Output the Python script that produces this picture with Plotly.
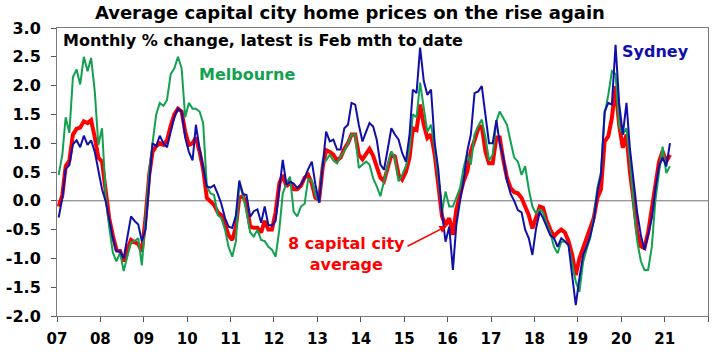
import pandas as pd
import plotly.graph_objects as go

# Monthly % change, Jan 2007 .. Feb 2021
sydney = [
    -0.29, 0.05, 0.55, 0.62, 0.98, 1.05, 0.93, 1.13, 0.97, 1.05, 0.85, 0.5,
    0.2, -0.01, -0.3, -0.65, -0.88, -0.88, -1.0, -0.65, -0.27, -0.35, -0.41, -0.7,
    -0.5, 0.3, 1.0, 0.95, 1.13, 1.0, 0.93, 1.2, 1.45, 1.6, 1.55, 1.1,
    0.85, 0.7, 1.32, 0.9, 0.55, 0.25, 0.23, 0.27, 0.12, -0.05, -0.3, -0.45,
    -0.47, -0.25, 0.35, 0.12, 0.1, -0.28, -0.18, -0.15, -0.38, -0.1, -0.42, -0.43,
    -0.35, 0.15, 0.71, 0.28, 0.33, 0.3, 0.22, 0.28, 0.4, 0.55, 0.68, 0.28,
    -0.03, 0.63, 1.2, 1.03, 1.06, 0.89, 0.89, 1.26, 1.32, 1.7, 1.67, 1.32,
    1.03, 1.2, 1.35, 1.29, 1.06, 0.63, 0.54, 0.89, 1.26, 1.15, 1.06, 0.83,
    0.68, 1.15, 1.93, 1.87, 2.66, 2.08, 1.84, 1.93, 1.0, 0.55, -0.2, -0.71,
    -0.45, -1.2, -0.42, 0.0, 0.34, 0.86, 1.15, 1.87, 1.9, 1.99, 1.5, 1.0,
    1.0, 1.4, 1.0, 0.75, 0.35, 0.12, 0.0, -0.16, -0.2, -0.5, -0.65, -0.94,
    -0.48, -0.19, -0.3, -0.45, -0.6, -0.65, -0.8, -0.65, -0.7, -0.77, -1.34, -1.81,
    -1.34, -0.94, -0.8, -0.62, -0.36, 0.16, 0.45, 1.55, 1.7, 1.67, 2.71, 1.7,
    1.15, 1.7, 0.9, 0.35, -0.2, -0.6, -0.85, -0.6, -0.3, 0.2, 0.6, 0.75,
    0.6, 1.0,
]

capital_avg = [
    -0.1, 0.1, 0.6, 0.7, 1.15, 1.25, 1.27, 1.38, 1.35, 1.4, 1.1, 0.75,
    0.68, 0.12, -0.3, -0.6, -0.85, -0.87, -1.05, -0.85, -0.68, -0.72, -0.75, -0.88,
    -0.3, 0.45, 0.85, 0.95, 1.0, 0.97, 1.05, 1.3, 1.5, 1.6, 1.55, 1.2,
    0.97, 1.0, 1.1, 0.85, 0.55, 0.05, 0.0, -0.07, -0.2, -0.25, -0.41, -0.6,
    -0.68, -0.45, 0.05, 0.08, -0.05, -0.45, -0.47, -0.47, -0.55, -0.35, -0.5, -0.5,
    -0.2, 0.3, 0.45, 0.25, 0.32, 0.2, 0.2, 0.26, 0.4, 0.45, 0.3, 0.05,
    0.02, 0.6, 0.88, 0.85, 0.8, 0.7, 0.75, 0.9, 1.0, 1.15, 1.15, 0.8,
    0.72, 0.8, 0.9, 0.78, 0.57, 0.4, 0.34, 0.57, 0.8, 0.77, 0.45, 0.37,
    0.5, 0.75, 1.26, 1.23, 1.67, 1.32, 1.09, 1.15, 0.8, 0.28, -0.27, -0.42,
    -0.3, -0.59, -0.15, 0.1, 0.34, 0.51, 0.86, 1.05, 1.25, 1.3, 0.85, 0.65,
    0.65, 1.1, 1.1, 0.7, 0.4, 0.22, 0.15, 0.13, 0.05, -0.1, -0.25, -0.48,
    -0.27, -0.1, -0.12, -0.35, -0.5, -0.62, -0.55, -0.5, -0.55, -0.7, -0.94, -1.29,
    -1.0, -0.82, -0.7, -0.5, -0.3, 0.05, 0.2, 1.03, 1.12, 1.44, 1.99, 1.32,
    0.92, 1.15, 0.5, 0.0, -0.55, -0.79, -0.82, -0.55, -0.15, 0.34, 0.68, 0.86,
    0.68, 0.8,
]

melbourne = [
    0.45, 0.8, 1.45, 1.18, 2.15, 2.28, 2.02, 2.5, 2.25, 2.48, 1.9, 0.97,
    1.26, 0.1, -0.45, -0.9, -1.05, -0.9, -1.22, -0.95, -0.72, -0.7, -0.65, -1.12,
    -0.3, 0.5, 1.0, 1.5, 1.7, 1.65, 1.75, 2.2, 2.3, 2.5, 2.3, 1.45,
    1.7, 1.6, 1.6, 1.55, 1.35, 0.25, 0.13, 0.1, -0.25, -0.3, -0.5, -0.8,
    -0.97, -0.7, 0.3, 0.1, -0.2, -0.55, -0.62, -0.5, -0.68, -0.7, -0.8, -0.85,
    -0.97, -0.5, 0.13, 0.3, 0.42, -0.19, -0.27, -0.1, -0.05, 0.38, 0.35, 0.1,
    -0.02, 0.7, 0.7, 0.8, 0.7, 0.65, 0.77, 0.86, 1.0, 1.15, 1.15, 0.57,
    0.63, 0.68, 0.63, 0.39, 0.25, 0.08, 0.34, 0.63, 0.86, 0.74, 0.34, 0.45,
    0.6, 0.9, 1.5, 1.45, 2.05, 1.61, 1.2, 1.32, 0.92, 0.4, -0.19, 0.16,
    -0.1, -0.1, 0.05, 0.22, 0.57, 0.83, 0.63, 1.15, 1.3, 1.41, 1.1, 0.7,
    0.8, 1.38, 1.55, 1.42, 1.32, 1.03, 0.75, 0.68, 0.45, 0.6, 0.2, -0.1,
    -0.22, -0.15, -0.2, -0.4, -0.55, -0.8, -0.91, -0.71, -0.71, -0.77, -1.11, -1.4,
    -1.58, -1.06, -0.85, -0.65, -0.3, 0.22, 0.5, 1.5, 1.84, 2.25, 2.2, 1.3,
    1.15, 1.26, 0.7, -0.1, -0.7, -1.05, -1.2, -1.2, -0.8, 0.0, 0.5, 0.94,
    0.48, 0.6,
]

year_ticks = [str(y) for y in range(2007, 2023)]
year_labels = ["07", "08", "09", "10", "11", "12", "13", "14", "15", "16",
               "17", "18", "19", "20", "21", ""]
y_ticks = [-2.0, -1.5, -1.0, -0.5, 0.0, 0.5, 1.0, 1.5, 2.0, 2.5, 3.0]
y_labels = ["-2.0", "-1.5", "-1.0", "-0.5", "0.0", "0.5", "1.0", "1.5", "2.0", "2.5", "3.0"]

dates = pd.date_range("2007-01-01", periods=len(sydney), freq="MS") + pd.Timedelta(days=14)

RED = "#ff0000"
GREEN = "#12a150"
BLUE = "#1010a8"
FONT = "DejaVu Sans"

fig = go.Figure()
fig.add_trace(go.Scatter(x=dates, y=capital_avg, mode="lines",
                         line=dict(color=RED, width=4), name="8 capital city average"))
fig.add_trace(go.Scatter(x=dates, y=melbourne, mode="lines",
                         line=dict(color=GREEN, width=2), name="Melbourne"))
fig.add_trace(go.Scatter(x=dates, y=sydney, mode="lines",
                         line=dict(color=BLUE, width=2), name="Sydney"))

fig.add_hline(y=0, line=dict(color="#707070", width=1), layer="below")

fig.update_layout(
    width=720, height=357,
    margin=dict(l=57, r=12, t=28, b=41, autoexpand=False),
    paper_bgcolor="white", plot_bgcolor="white",
    showlegend=False,
    font=dict(family=FONT, color="black"),
    title=dict(text="Average capital city home prices on the rise again",
               x=0.486, xanchor="center", xref="container",
               y=1 - 13 / 357, yanchor="middle", yref="container",
               font=dict(family=FONT, size=18, weight="bold", color="black")),
    xaxis=dict(type="date", range=["2007-01-01", "2022-01-01"],
               tickvals=year_ticks, ticktext=year_labels,
               ticks="outside", ticklen=5, tickcolor="#555555",
               ticklabelstandoff=4, automargin=False,
               showgrid=False, zeroline=False,
               showline=True, linecolor="#7a7a7a", linewidth=1, mirror=True,
               tickfont=dict(family=FONT, size=15, weight="bold", color="black")),
    yaxis=dict(range=[-2.0, 3.0], tickvals=y_ticks, ticktext=y_labels,
               ticks="outside", ticklen=5, tickcolor="#555555",
               ticklabelstandoff=7, automargin=False,
               showgrid=False, zeroline=False,
               showline=True, linecolor="#7a7a7a", linewidth=1, mirror=True,
               tickfont=dict(family=FONT, size=16, weight="bold", color="black")),
)

fig.add_annotation(text="Monthly % change, latest is Feb mth to date",
                   xref="paper", yref="paper", x=0.006, y=0.955,
                   xanchor="left", yanchor="middle", showarrow=False,
                   font=dict(family=FONT, size=16, weight="bold", color="black"))
fig.add_annotation(text="Melbourne", xref="paper", yref="paper",
                   x=0.292, y=0.837, xanchor="center", yanchor="middle",
                   showarrow=False,
                   font=dict(family=FONT, size=16, weight="bold", color=GREEN))
fig.add_annotation(text="Sydney", xref="paper", yref="paper",
                   x=0.919, y=0.917, xanchor="center", yanchor="middle",
                   showarrow=False,
                   font=dict(family=FONT, size=16, weight="bold", color=BLUE))
fig.add_annotation(text="8 capital city<br>average", xref="paper", yref="paper",
                   x=0.444, y=0.215, xanchor="center", yanchor="middle",
                   align="center", showarrow=False,
                   font=dict(family=FONT, size=16, weight="bold", color=RED))
fig.add_annotation(text="", xref="paper", yref="paper",
                   x=(447 - 57) / 651, y=(316 - 226) / 288,
                   ax=-41, ay=21, showarrow=True,
                   arrowhead=2, arrowsize=1, arrowwidth=1.5, arrowcolor=RED)

fig.write_html("out.html", config={"displayModeBar": False},
               post_script="document.body.style.margin='0';")
